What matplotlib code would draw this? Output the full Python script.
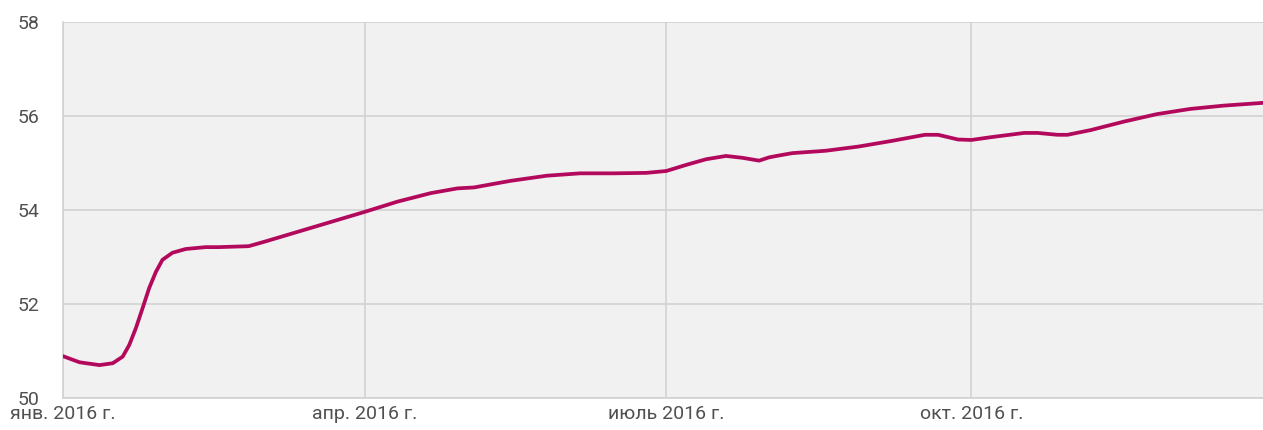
import matplotlib
matplotlib.use("Agg")
import matplotlib.pyplot as plt
import pandas as pd

# values
dates = [
    "2016-01-01", "2016-01-06", "2016-01-12", "2016-01-16", "2016-01-19",
    "2016-01-21", "2016-01-23", "2016-01-25", "2016-01-27", "2016-01-29",
    "2016-01-31", "2016-02-03", "2016-02-07", "2016-02-13", "2016-02-17",
    "2016-02-26", "2016-03-02", "2016-03-12", "2016-03-22", "2016-04-01",
    "2016-04-11", "2016-04-21", "2016-04-29", "2016-05-04", "2016-05-11",
    "2016-05-15", "2016-05-26", "2016-06-05", "2016-06-15", "2016-06-25",
    "2016-07-01", "2016-07-07", "2016-07-13", "2016-07-19", "2016-07-24",
    "2016-07-29", "2016-08-01", "2016-08-04", "2016-08-08", "2016-08-18",
    "2016-08-28", "2016-09-07", "2016-09-17", "2016-09-21", "2016-09-27",
    "2016-10-01", "2016-10-07", "2016-10-17", "2016-10-21", "2016-10-27",
    "2016-10-30", "2016-11-06", "2016-11-16", "2016-11-26", "2016-12-06",
    "2016-12-16", "2016-12-28",
]
values = [
    50.89, 50.76, 50.70, 50.74, 50.88,
    51.13, 51.49, 51.91, 52.34, 52.68,
    52.94, 53.09, 53.17, 53.21, 53.21,
    53.23, 53.33, 53.54, 53.75, 53.96,
    54.18, 54.36, 54.46, 54.48, 54.57,
    54.62, 54.73, 54.78, 54.78, 54.79,
    54.83, 54.96, 55.08, 55.15, 55.11,
    55.05, 55.12, 55.16, 55.21, 55.26,
    55.35, 55.47, 55.60, 55.60, 55.50,
    55.49, 55.55, 55.64, 55.64, 55.60,
    55.60, 55.70, 55.88, 56.04, 56.15,
    56.22, 56.28,
]
tick_dates = ["2016-01-01", "2016-04-01", "2016-07-01", "2016-10-01"]
tick_labels = ["янв. 2016 г.", "апр. 2016 г.", "июль 2016 г.", "окт. 2016 г."]
y_ticks = [50, 52, 54, 56, 58]

plt.rcParams["font.family"] = ["Roboto", "DejaVu Sans"]

x = pd.to_datetime(dates)

fig = plt.figure(figsize=(12.63, 4.30), dpi=100)
ax = fig.add_axes([63 / 1263, 32 / 430, 1 - 63 / 1263, 376 / 430])
ax.set_facecolor("#f1f1f1")

ax.plot(x, values, color="#b3095d", linewidth=2.7,
        solid_capstyle="round", solid_joinstyle="round", zorder=3)

ax.set_ylim(50, 58)
ax.set_xlim(pd.Timestamp("2016-01-01"), pd.Timestamp("2016-12-28"))
ax.set_yticks(y_ticks)
ax.set_xticks(pd.to_datetime(tick_dates))
ax.set_xticklabels(tick_labels)

ax.grid(True, color="#d2d2d2", linewidth=1.2, zorder=0)
ax.set_axisbelow(True)
for side in ["top", "right"]:
    ax.spines[side].set_visible(False)
for side in ["left", "bottom"]:
    ax.spines[side].set_color("#d2d2d2")
    ax.spines[side].set_linewidth(1.2)

ax.tick_params(axis="both", length=0, labelsize=14, labelcolor="#505050")
ax.tick_params(axis="y", pad=17)
ax.tick_params(axis="x", pad=5)

fig.savefig("out.png", dpi=100)
